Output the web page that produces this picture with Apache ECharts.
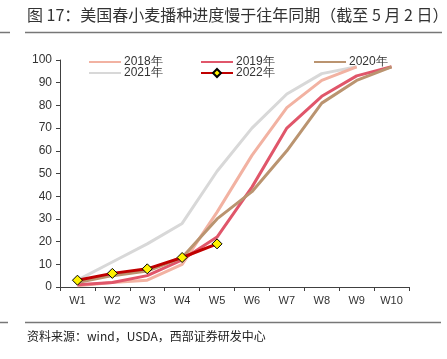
<!DOCTYPE html>
<html><head><meta charset="utf-8">
<script src="https://cdn.jsdelivr.net/npm/echarts@6/dist/echarts.min.js"></script>
<style>html,body{margin:0;padding:0;background:#fff}#c{width:447px;height:359px}</style>
</head><body><div id="c"></div>
<script>
var categories = ['W1','W2','W3','W4','W5','W6','W7','W8','W9','W10'];
var s2018 = [0.5, 2, 3, 10, 33, 58, 79, 91, 97, null];
var s2019 = [1, 2, 5, 12, 22, 44, 70, 84, 93, 97];
var s2020 = [2, 5, 7, 13, 30, 42, 60, 81, 91, 97];
var s2021 = [3, 11, 19, 28, 51, 70, 85, 94, 97, null];
var s2022 = [3, 6, 8, 13, 19, null, null, null, null, null];
var yTicks = [0,10,20,30,40,50,60,70,80,90,100];
var names = ['2018年','2019年','2020年','2021年','2022年'];
var colors = ['#F2B2A2','#E0566A','#BA9470','#D8D8D8','#C00000'];

var chart = echarts.init(document.getElementById('c'));
var fontFam = 'Liberation Sans, Arial, sans-serif';
function lg(i, left, top){
  var o = {data:[names[i]], left:left, top:top, itemWidth:32, itemHeight:10, padding:0,
    textStyle:{fontSize:12, color:'#333', fontFamily:fontFam, padding:[0,0,0,-2]}, selectedMode:false};
  if (i < 4) o.itemStyle = {opacity:0};
  return o;
}
var ser = [s2018,s2019,s2020,s2021].map(function(d,i){
  return {name:names[i], type:'line', data:d, symbol:'none', smooth:false,
    lineStyle:{width:3, color:colors[i]}, itemStyle:{color:colors[i]}, z: (i===3?1:2)};
});
ser.push({name:names[4], type:'line', data:s2022, symbol:'diamond', symbolSize:10,
  lineStyle:{width:3, color:colors[4]}, itemStyle:{color:'#FFF200', borderColor:'#000', borderWidth:1}, z:5});
chart.setOption({
  animation:false,
  grid:{left:60, right:38, top:60, bottom:72},
  legend:[lg(0,88,56), lg(1,200,56), lg(2,313,56), lg(3,88,67), lg(4,200,67)],
  xAxis:{type:'category', data:categories, boundaryGap:true,
    axisLine:{lineStyle:{color:'#404040', width:1}},
    axisTick:{show:true, interval:0, length:4, lineStyle:{color:'#404040'}},
    axisLabel:{fontSize:11, color:'#333', fontFamily:fontFam, margin:8, interval:0}},
  yAxis:{type:'value', min:0, max:100, interval:10,
    axisLine:{show:true, lineStyle:{color:'#404040', width:1}},
    axisTick:{show:true, length:4, lineStyle:{color:'#404040'}},
    splitLine:{show:false},
    axisLabel:{fontSize:12, color:'#333', fontFamily:fontFam, margin:8}},
  series:ser,
  graphic:[
    {type:'text', left:27, top:7, style:{text:'图 17：美国春小麦播种进度慢于往年同期（截至 5 月 2 日）', font:'16px "Noto Sans CJK SC"', fill:'#333'}},
    {type:'line', shape:{x1:0,y1:32.5,x2:10,y2:32.5}, style:{stroke:'#777', lineWidth:1.5}},
    {type:'line', shape:{x1:25,y1:32.5,x2:442,y2:32.5}, style:{stroke:'#777', lineWidth:1.5}},
    {type:'line', shape:{x1:0,y1:322.5,x2:8,y2:322.5}, style:{stroke:'#777', lineWidth:1.5}},
    {type:'line', shape:{x1:25,y1:322.5,x2:441,y2:322.5}, style:{stroke:'#777', lineWidth:1.5}},
    {type:'text', left:27, top:330, style:{text:'资料来源：wind，USDA，西部证券研发中心', font:'12px "Noto Sans CJK SC"', fill:'#222'}}
  ]
});
</script></body></html>
